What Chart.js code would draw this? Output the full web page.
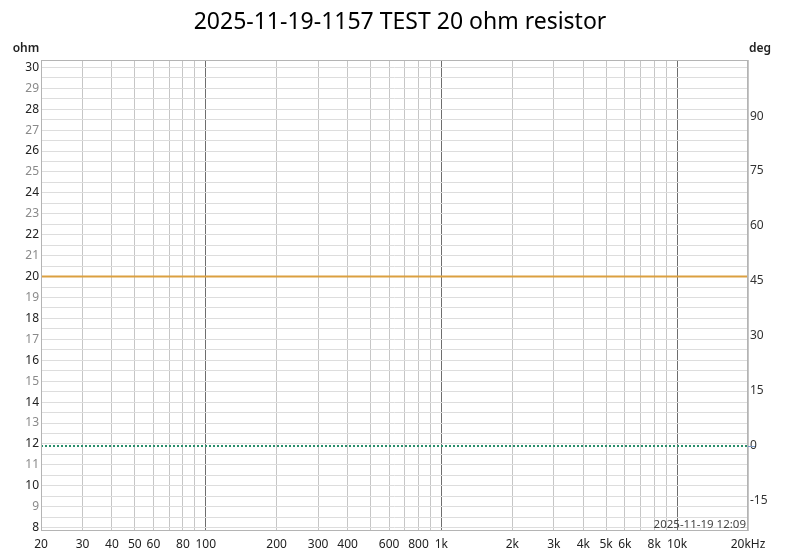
<!DOCTYPE html>
<html>
<head>
<meta charset="utf-8">
<script src="https://cdn.jsdelivr.net/npm/chart.js@4.4.1/dist/chart.umd.min.js"></script>
<style>
  body { margin: 0; background: #fff; }
  #wrap { width: 800px; height: 556px; }
</style>
</head>
<body>
<div id="wrap"><canvas id="zChart" width="800" height="556"></canvas></div>
<script>
const freqs = [20, 30, 50, 100, 200, 500, 1000, 2000, 5000, 10000, 20000];
const impedance = [20, 20, 20, 20, 20, 20, 20, 20, 20, 20, 20];   // ohm
const phase = [0, 0, 0, 0, 0, 0, 0, 0, 0, 0, 0];                 // deg

// axis ticks
const xGridFreqs = [20, 30, 40, 50, 60, 70, 80, 90, 100, 200, 300, 400, 500, 600, 700, 800, 900,
  1000, 2000, 3000, 4000, 5000, 6000, 7000, 8000, 9000, 10000, 20000];
const xMajorFreqs = [100, 1000, 10000];
const xLabelFreqs = [20, 30, 40, 50, 60, 80, 100, 200, 300, 400, 600, 800, 1000,
  2000, 3000, 4000, 5000, 6000, 8000, 10000, 20000];
const xLabelTexts = ['20', '30', '40', '50', '60', '80', '100', '200', '300', '400', '600', '800', '1k',
  '2k', '3k', '4k', '5k', '6k', '8k', '10k', '20kHz'];
const ohmTicks = [8, 8.5, 9, 9.5, 10, 10.5, 11, 11.5, 12, 12.5, 13, 13.5, 14, 14.5, 15, 15.5, 16, 16.5,
  17, 17.5, 18, 18.5, 19, 19.5, 20, 20.5, 21, 21.5, 22, 22.5, 23, 23.5, 24, 24.5, 25, 25.5, 26, 26.5,
  27, 27.5, 28, 28.5, 29, 29.5, 30];
const degTicks = [-15, 0, 15, 30, 45, 60, 75, 90];

const title = '2025-11-19-1157 TEST 20 ohm resistor';
const stamp = '2025-11-19 12:09';
const FONT = '"Noto Sans", "DejaVu Sans", sans-serif';

// frame, title, units and the time stamp
const decorations = {
  id: 'decorations',
  afterDatasetsDraw(chart) {
    const { ctx, chartArea: a, scales } = chart;
    ctx.save();
    ctx.strokeStyle = '#b4b4b4';
    ctx.lineWidth = 1;
    ctx.strokeRect(a.left + 0.5, a.top + 0.5, a.right - a.left - 1, a.bottom - a.top - 1);

    // little marker at 0 deg on the right edge
    const y0 = Math.round(scales.y2.getPixelForValue(0)) + 0.5;
    ctx.strokeStyle = '#7c9cc8';
    ctx.beginPath();
    ctx.moveTo(a.right, y0);
    ctx.lineTo(a.right + 7, y0);
    ctx.stroke();

    ctx.fillStyle = '#000';
    ctx.font = '23px ' + FONT;
    ctx.textAlign = 'center';
    ctx.textBaseline = 'middle';
    ctx.fillText(title, 400, 22);

    ctx.font = '600 12px ' + FONT;
    ctx.fillStyle = '#222';
    ctx.fillText('ohm', 26, 49);
    ctx.fillText('deg', 760, 49);

    ctx.font = '11.5px ' + FONT;
    ctx.fillStyle = '#444';
    ctx.textAlign = 'right';
    ctx.fillText(stamp, a.right - 2, a.bottom - 6.5);
    ctx.restore();
  }
};

const ctx = document.getElementById('zChart').getContext('2d');
const zChart = new Chart(ctx, {
  type: 'line',
  data: {
    datasets: [{
      label: 'Impedance',
      data: freqs.map((f, i) => ({ x: f, y: impedance[i] })),
      yAxisID: 'y',
      borderColor: '#dba040',
      borderWidth: 2,
      pointRadius: 0,
      tension: 0
    }, {
      label: 'Phase',
      data: freqs.map((f, i) => ({ x: f, y: phase[i] })),
      yAxisID: 'y2',
      borderColor: '#2a8f6c',
      borderWidth: 2,
      borderDash: [2, 2],
      pointRadius: 0,
      tension: 0
    }]
  },
  options: {
    responsive: false,
    animation: false,
    devicePixelRatio: 1,
    layout: { padding: { top: 60, left: 0, right: 0, bottom: 0 } },
    plugins: {
      legend: { display: false },
      tooltip: { enabled: false }
    },
    scales: {
      x: {
        type: 'logarithmic',
        min: 20,
        max: 20000,
        afterFit: s => { s.height = 25; },
        afterBuildTicks: s => { s.ticks = xGridFreqs.map(v => ({ value: v })); },
        border: { display: false },
        grid: {
          drawTicks: false,
          color: c => xMajorFreqs.includes(c.tick.value) ? '#6e6e6e' : '#c6c6c6'
        },
        ticks: {
          autoSkip: false,
          maxRotation: 0,
          padding: 6,
          color: '#222',
          font: { family: FONT, size: 12 },
          callback: v => {
            const i = xLabelFreqs.indexOf(v);
            return i >= 0 ? xLabelTexts[i] : '';
          }
        }
      },
      y: {
        position: 'left',
        min: 7.84,
        max: 30.35,
        afterFit: s => { s.width = 41; },
        afterBuildTicks: s => { s.ticks = ohmTicks.map(v => ({ value: v })); },
        border: { display: false },
        grid: { drawTicks: false, color: '#dddddd' },
        ticks: {
          autoSkip: false,
          padding: 2,
          font: { family: FONT, size: 12 },
          color: c => (c.tick.value % 2 === 0 ? '#222' : '#8a8a8a'),
          callback: v => (Number.isInteger(v) ? String(v) : '')
        }
      },
      y2: {
        position: 'right',
        min: -23.2,
        max: 105.3,
        afterFit: s => { s.width = 52; },
        afterBuildTicks: s => { s.ticks = degTicks.map(v => ({ value: v })); },
        border: { display: false },
        grid: { display: false, drawTicks: false },
        ticks: {
          autoSkip: false,
          padding: 2,
          color: '#333',
          font: { family: FONT, size: 12 }
        }
      }
    }
  },
  plugins: [decorations]
});
</script>
</body>
</html>
